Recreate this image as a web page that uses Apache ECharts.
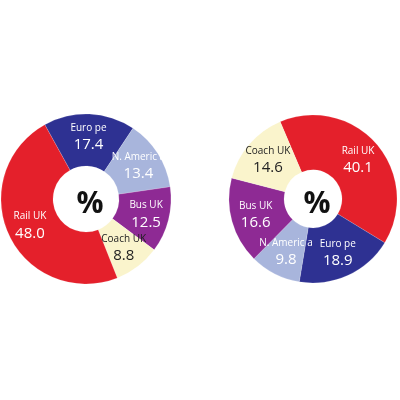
<!DOCTYPE html>
<html>
<head>
<meta charset="utf-8">
<script src="https://cdn.jsdelivr.net/npm/echarts@6/dist/echarts.min.js"></script>
<style>html,body{margin:0;padding:0;background:#fff}#c{width:400px;height:400px}</style>
</head>
<body>
<div id="c"></div>
<script>
const leftNames = ['Euro pe', 'N. Americ a', 'Bus UK', 'Coach UK', 'Rail UK'];
const leftValues = [17.4, 13.4, 12.5, 8.8, 48.0];
const rightNames = ['Rail UK', 'Euro pe', 'N. Americ a', 'Bus UK', 'Coach UK'];
const rightValues = [40.1, 18.9, 9.8, 16.6, 14.6];
const centerLabel = '%';

const colorMap = {
  'Rail UK': '#E4202B',
  'Euro pe': '#2E3192',
  'N. Americ a': '#A8B5DC',
  'Bus UK': '#8E2A94',
  'Coach UK': '#FAF4CC'
};
const textColor = n => n === 'Coach UK' ? '#222' : '#fff';

function build(names, values) {
  return names.map((n, i) => ({
    name: n,
    value: values[i],
    itemStyle: { color: colorMap[n] },
    label: { rich: {
      n: { fontSize: 10, color: textColor(n), fontFamily: 'Open Sans', lineHeight: 16 },
      v: { fontSize: 15, color: textColor(n), fontFamily: 'Open Sans', lineHeight: 18 }
    } }
  }));
}

function pie(names, values, center, radius, startAngle) {
  return {
    type: 'pie',
    center: center,
    radius: radius,
    startAngle: startAngle,
    clockwise: true,
    silent: true,
    avoidLabelOverlap: false,
    itemStyle: { borderColor: 'rgba(255,255,255,0.3)', borderWidth: 0.5 },
    label: {
      show: true,
      position: 'inside',
      formatter: p => '{n|' + p.name + '}\n{v|' + p.value.toFixed(1) + '}'
    },
    labelLine: { show: false },
    data: build(names, values)
  };
}

const chart = echarts.init(document.getElementById('c'), null, { renderer: 'canvas' });
chart.setOption({
  animation: false,
  backgroundColor: '#fff',
  title: [
    { text: centerLabel, left: 85, top: 199, textAlign: 'center', textVerticalAlign: 'middle',
      textStyle: { fontSize: 30, fontWeight: 'bold', color: '#111', fontFamily: 'Open Sans' } },
    { text: centerLabel, left: 312, top: 199, textAlign: 'center', textVerticalAlign: 'middle',
      textStyle: { fontSize: 30, fontWeight: 'bold', color: '#111', fontFamily: 'Open Sans' } }
  ],
  series: [
    pie(leftNames, leftValues, [86, 199], [33, 85], 119),
    pie(rightNames, rightValues, [313, 199], [29, 84], 113)
  ]
});
</script>
</body>
</html>
